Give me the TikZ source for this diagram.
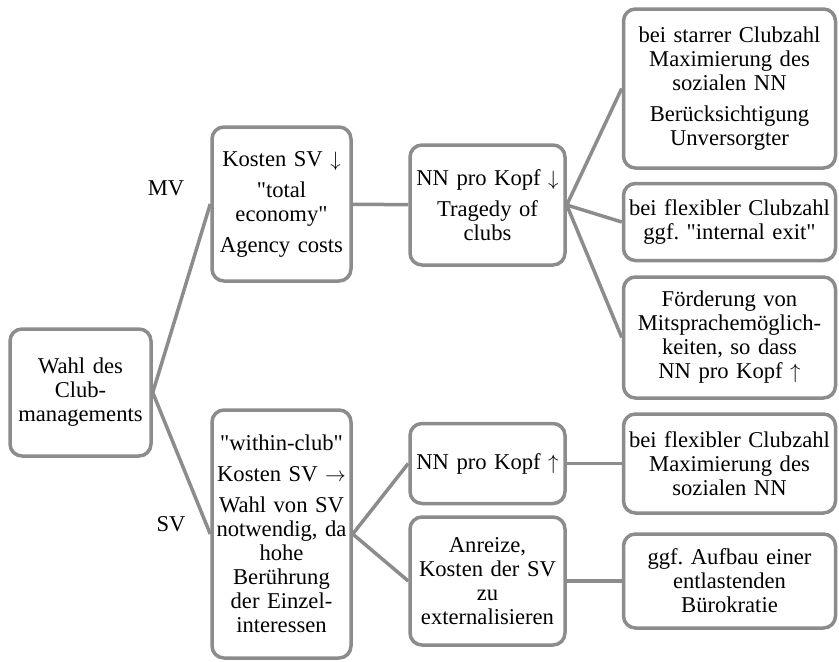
\documentclass[tikz,border=0pt]{standalone}
\usepackage{fontspec}
\setmainfont{Liberation Serif}[Ligatures=TeXOff]
\frenchspacing
\definecolor{linegray}{RGB}{140,140,140}
\begin{document}
\begin{tikzpicture}[x=1pt,y=-1pt,
    box/.style={draw=linegray, line width=3.5pt, rounded corners=12pt, fill=white,
      align=center, inner sep=3pt, font=\fontsize{22.6}{24}\selectfont},
    rootbox/.style={box, text width=135pt},
    midbox/.style={box, text width=133pt},
    nnbox/.style={box, text width=149pt},
    endbox/.style={box, text width=206pt},
    branch/.style={font=\fontsize{22.6}{24}\selectfont}]
  \useasboundingbox (0,0) rectangle (839,662);
  % edges go below the boxes
  \draw
    (80.5,392.5) node[rootbox, minimum height=127pt] (wahl){Wahl des\\Club-\\managements}
    (281.5,204) node[midbox, minimum height=154pt] (mv){Kosten SV $\downarrow$\\[7pt]"total\\economy"\\[7pt]Agency costs}
    (281.5,534) node[midbox, minimum height=248pt] (sv){"within-club"\\[7pt]Kosten SV $\rightarrow$\\[7pt]Wahl von SV\\notwendig, da\\hohe\\Berührung\\der Einzel-\\interessen}
    (487.5,205) node[nnbox, minimum height=120pt] (nnab){NN pro Kopf $\downarrow$\\[7pt]Tragedy of\\clubs}
    (487.5,463.5) node[nnbox, minimum height=80pt] (nnauf){NN pro Kopf $\uparrow$}
    (487.5,581) node[nnbox, minimum height=128pt] (anreiz){Anreize,\\Kosten der SV\\zu\\externalisieren}
    (729.5,88.5) node[endbox, minimum height=159pt] (starr){bei starrer Clubzahl\\Maximierung des\\sozialen NN\\[7pt]Berücksichtigung\\Unversorgter}
    (729.5,222) node[endbox, minimum height=77pt] (exit){bei flexibler Clubzahl\\ggf. "internal exit"}
    (729.5,337.5) node[endbox, minimum height=121pt] (mitsprache){Förderung von\\Mitsprachemöglich-\\keiten, so dass\\NN pro Kopf $\uparrow$}
    (729.5,463.5) node[endbox, minimum height=99pt] (flexibel){bei flexibler Clubzahl\\Maximierung des\\sozialen NN}
    (729.5,581) node[endbox, minimum height=94pt] (buero){ggf. Aufbau einer\\entlastenden\\Bürokratie};
  \draw
    (166,188) node[branch] (mvlabel){MV}
    (171,524) node[branch] (svlabel){SV};
  \begin{scope}[-, draw=linegray, line width=3.5pt]
    \draw (wahl.east) to (mv.west);
    \draw (wahl.east) to (sv.west);
    \draw (mv) to (nnab);
    \draw (nnab.east) to (starr.west);
    \draw (nnab.east) to (exit.west);
    \draw (nnab.east) to (mitsprache.west);
    \draw (sv.east) to (nnauf.west);
    \draw (sv.east) to (anreiz.west);
    \draw (nnauf) to (flexibel);
    \draw (anreiz) to (buero);
  \end{scope}
\end{tikzpicture}
\end{document}
